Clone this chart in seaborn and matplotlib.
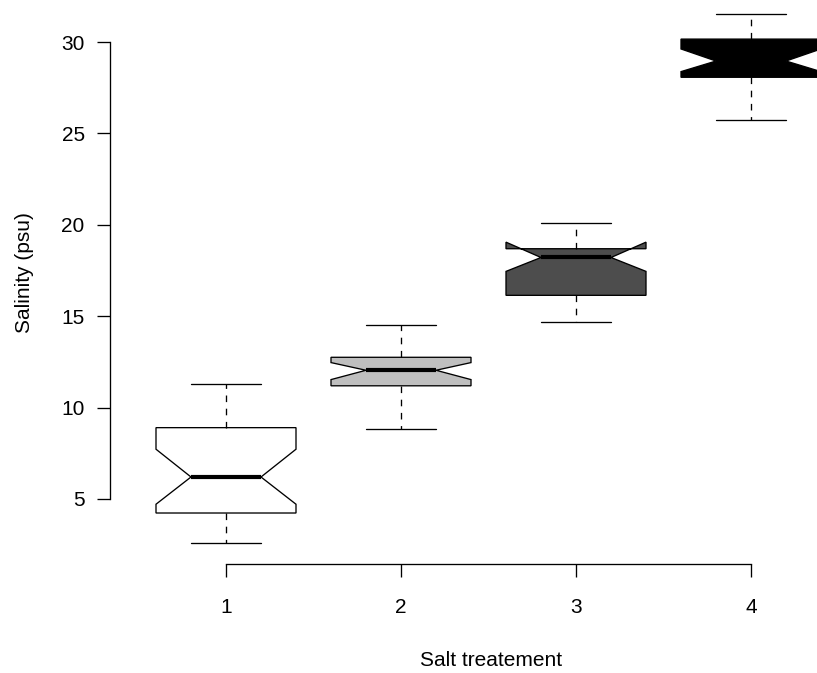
import matplotlib
matplotlib.use("Agg")
import matplotlib.pyplot as plt
import seaborn as sns

# Salinity summary statistics per salt treatment
treatments = ["1", "2", "3", "4"]
whisker_low = [2.60, 8.85, 14.70, 25.73]
q1 = [4.23, 11.19, 16.14, 28.07]
medians = [6.20, 12.04, 18.21, 28.96]
q3 = [8.90, 12.75, 18.69, 30.16]
whisker_high = [11.31, 14.50, 20.12, 31.53]
notch_low = [4.71, 11.53, 17.45, 28.38]
notch_high = [7.72, 12.46, 19.05, 29.62]
fill_colors = ["#FFFFFF", "#BFBFBF", "#4D4D4D", "#000000"]
y_ticks = [5, 10, 15, 20, 25, 30]

sns.set_style("ticks")
plt.rcParams["font.family"] = ["Liberation Sans", "DejaVu Sans"]

W, H = 817, 673
fig = plt.figure(figsize=(W / 100, H / 100), dpi=100)
ax = fig.add_axes([138.5 / W, (H - 564) / H, 700 / W, 570.6 / H])

stats = []
for i, t in enumerate(treatments):
    stats.append(dict(label=t, whislo=whisker_low[i], q1=q1[i], med=medians[i],
                      q3=q3[i], whishi=whisker_high[i],
                      cilo=notch_low[i], cihi=notch_high[i], fliers=[]))

positions = list(range(1, len(treatments) + 1))
lw = 0.95
bp = ax.bxp(stats, positions=positions, widths=0.8, shownotches=True,
            patch_artist=True, showfliers=False,
            boxprops=dict(linewidth=lw, edgecolor="black"),
            whiskerprops=dict(linewidth=lw, linestyle=(0, (5, 5)), color="black"),
            capprops=dict(linewidth=lw, color="black"),
            medianprops=dict(linewidth=3.0, color="black", solid_capstyle="butt"))
for patch, c in zip(bp["boxes"], fill_colors):
    patch.set_facecolor(c)

ax.set_xlim(0.5, 4.5)
ax.set_ylim(1.44, 32.66)
ax.set_xticks(positions)
ax.set_xticklabels(treatments)
ax.set_yticks(y_ticks)

sns.despine(ax=ax, top=True, right=True)
ax.spines["left"].set_bounds(5, 30)
ax.spines["left"].set_position(("outward", 20.5))
ax.spines["bottom"].set_bounds(1, 4)
for s in ("left", "bottom"):
    ax.spines[s].set_linewidth(lw)
    ax.spines[s].set_color("black")

ax.tick_params(axis="both", direction="out", length=9.7, width=lw,
               color="black", labelsize=15, labelcolor="black")
ax.tick_params(axis="y", pad=8.5)
ax.tick_params(axis="x", pad=14.5)

ax.set_xlabel("Salt treatement", fontsize=15, color="black")
ax.set_ylabel("Salinity (psu)", fontsize=15, color="black")
ax.xaxis.set_label_coords(491 / W, 1 - 651 / H, transform=fig.transFigure)
ax.yaxis.set_label_coords(34 / W, 1 - 273 / H, transform=fig.transFigure)

fig.savefig("out.png", dpi=100)
